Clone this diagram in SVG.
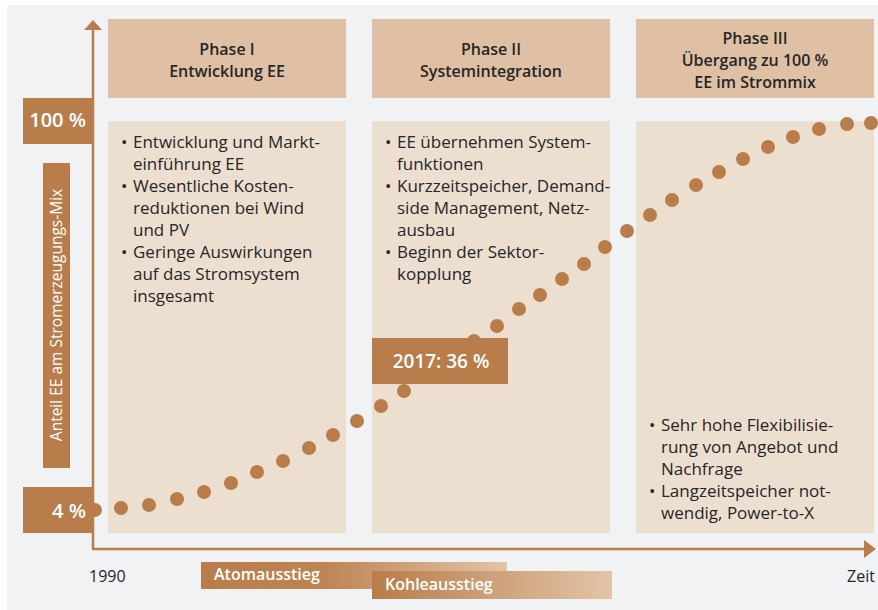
<svg xmlns="http://www.w3.org/2000/svg" width="878" height="610" viewBox="0 0 878 610">
<defs>
<style>
.bg{fill:#f1f2f4}
.hdr{fill:#dfc0a4}
.cnt{fill:#eddfd0}
.br{fill:#b87d4a}
.ht{font-family:"Open Sans","Noto Sans",sans-serif;font-size:16px;font-weight:600;fill:#262626;text-anchor:middle}
.bt{font-family:"Open Sans","Noto Sans",sans-serif;font-size:17px;fill:#262626}
.wt{font-family:"Open Sans","Noto Sans",sans-serif;fill:#ffffff;font-weight:600}
.wn{font-family:"Open Sans","Noto Sans",sans-serif;fill:#ffffff;font-weight:400}
.ax{font-family:"Open Sans","Noto Sans",sans-serif;font-size:16px;fill:#262626}
.dot{fill:#b87d4a}
</style>
<linearGradient id="gA" x1="0" y1="0" x2="1" y2="0">
<stop offset="0" stop-color="#b87d4a"/>
<stop offset="0.4" stop-color="#bd8553"/>
<stop offset="1" stop-color="#e2c4a8"/>
</linearGradient>
<linearGradient id="gK" x1="0" y1="0" x2="1" y2="0">
<stop offset="0" stop-color="#b87d4a"/>
<stop offset="1" stop-color="#e2c4a8"/>
</linearGradient>
</defs>
<rect x="7" y="5" width="871" height="605" class="bg"/>

<g id="phase1">
<rect x="108" y="19" width="238" height="79" class="hdr"/>
<text class="ht" x="227" y="55">Phase I</text>
<text class="ht" x="227" y="77">Entwicklung EE</text>
<rect x="108" y="121" width="238" height="412" class="cnt"/>
<text class="bt" x="121" y="148">•</text><text class="bt" x="133" y="148">Entwicklung und Markt-</text>
<text class="bt" x="133" y="170">einführung EE</text>
<text class="bt" x="121" y="192">•</text><text class="bt" x="133" y="192">Wesentliche Kosten-</text>
<text class="bt" x="133" y="214">reduktionen bei Wind</text>
<text class="bt" x="133" y="236">und PV</text>
<text class="bt" x="121" y="258">•</text><text class="bt" x="133" y="258">Geringe Auswirkungen</text>
<text class="bt" x="133" y="280">auf das Stromsystem</text>
<text class="bt" x="133" y="302">insgesamt</text>
</g>

<g id="phase2">
<rect x="372" y="19" width="238" height="79" class="hdr"/>
<text class="ht" x="491" y="55">Phase II</text>
<text class="ht" x="491" y="77">Systemintegration</text>
<rect x="372" y="121" width="238" height="412" class="cnt"/>
<text class="bt" x="385" y="148">•</text><text class="bt" x="397" y="148">EE übernehmen System-</text>
<text class="bt" x="397" y="170">funktionen</text>
<text class="bt" x="385" y="192">•</text><text class="bt" x="397" y="192">Kurzzeitspeicher, Demand-</text>
<text class="bt" x="397" y="214">side Management, Netz-</text>
<text class="bt" x="397" y="236">ausbau</text>
<text class="bt" x="385" y="258">•</text><text class="bt" x="397" y="258">Beginn der Sektor-</text>
<text class="bt" x="397" y="280">kopplung</text>
</g>

<g id="phase3">
<rect x="636" y="19" width="238" height="79" class="hdr"/>
<text class="ht" x="755" y="44">Phase III</text>
<text class="ht" x="755" y="66">Übergang zu 100 %</text>
<text class="ht" x="755" y="88">EE im Strommix</text>
<rect x="636" y="121" width="238" height="412" class="cnt"/>
<text class="bt" x="649" y="431">•</text><text class="bt" x="661" y="431">Sehr hohe Flexibilisie-</text>
<text class="bt" x="661" y="453">rung von Angebot und</text>
<text class="bt" x="661" y="475">Nachfrage</text>
<text class="bt" x="649" y="497">•</text><text class="bt" x="661" y="497">Langzeitspeicher not-</text>
<text class="bt" x="661" y="519">wendig, Power-to-X</text>
</g>

<g id="connectors">
<line x1="93" y1="28" x2="93" y2="549" stroke="#b87d4a" stroke-width="2.5"/>
<polygon points="84,30 102,30 93,20" class="br"/>
<line x1="92" y1="549" x2="866" y2="549" stroke="#b87d4a" stroke-width="2.5"/>
<polygon points="864,540 876,549 864,558" class="br"/>
</g>

<g id="curve">
<circle class="dot" cx="95" cy="510" r="7"/>
<circle class="dot" cx="121" cy="508" r="7"/>
<circle class="dot" cx="149" cy="505" r="7"/>
<circle class="dot" cx="177" cy="499" r="7"/>
<circle class="dot" cx="204" cy="492" r="7"/>
<circle class="dot" cx="231" cy="483" r="7"/>
<circle class="dot" cx="257" cy="472" r="7"/>
<circle class="dot" cx="283" cy="461" r="7"/>
<circle class="dot" cx="309" cy="448" r="7"/>
<circle class="dot" cx="333" cy="435" r="7"/>
<circle class="dot" cx="357" cy="421" r="7"/>
<circle class="dot" cx="381" cy="406" r="7"/>
<circle class="dot" cx="404" cy="391" r="7"/>
<circle class="dot" cx="428" cy="374" r="7"/>
<circle class="dot" cx="451" cy="357" r="7"/>
<circle class="dot" cx="474" cy="341" r="7"/>
<circle class="dot" cx="497" cy="326" r="7"/>
<circle class="dot" cx="519" cy="309" r="7"/>
<circle class="dot" cx="540" cy="295" r="7"/>
<circle class="dot" cx="562" cy="279" r="7"/>
<circle class="dot" cx="584" cy="264" r="7"/>
<circle class="dot" cx="605" cy="247" r="7"/>
<circle class="dot" cx="627" cy="231" r="7"/>
<circle class="dot" cx="650" cy="215" r="7"/>
<circle class="dot" cx="672" cy="200" r="7"/>
<circle class="dot" cx="696" cy="185" r="7"/>
<circle class="dot" cx="719" cy="172" r="7"/>
<circle class="dot" cx="743" cy="159" r="7"/>
<circle class="dot" cx="768" cy="147" r="7"/>
<circle class="dot" cx="793" cy="137" r="7"/>
<circle class="dot" cx="819" cy="129" r="7"/>
<circle class="dot" cx="847" cy="124" r="7"/>
<circle class="dot" cx="871" cy="123" r="7"/>
</g>

<g id="label2017">
<rect x="372" y="338" width="136" height="46" class="br"/>
<text class="wt" x="441" y="368" font-size="19" text-anchor="middle">2017: 36 %</text>
</g>

<g id="label100">
<rect x="23" y="98" width="70" height="46" class="br"/>
<text class="wt" x="86" y="127" font-size="20" text-anchor="end">100 %</text>
</g>

<g id="label4">
<rect x="23" y="487" width="70" height="46" class="br"/>
<text class="wt" x="86" y="518" font-size="20" text-anchor="end">4 %</text>
</g>

<g id="ylabel">
<rect x="43" y="163" width="27" height="305" class="br"/>
<text class="wn" font-size="15.5" text-anchor="middle" transform="translate(62,315) rotate(-90)">Anteil EE am Stromerzeugungs-Mix</text>
</g>

<g id="atom">
<rect x="201" y="562" width="306" height="27" fill="url(#gA)"/>
<text class="wt" x="214" y="580" font-size="16">Atomausstieg</text>
</g>

<g id="kohle">
<rect x="372" y="571" width="240" height="28" fill="url(#gK)"/>
<text class="wt" x="385" y="590" font-size="16">Kohleausstieg</text>
</g>

<text class="ax" x="89" y="582">1990</text>
<text class="ax" x="875" y="582" text-anchor="end">Zeit</text>
</svg>
